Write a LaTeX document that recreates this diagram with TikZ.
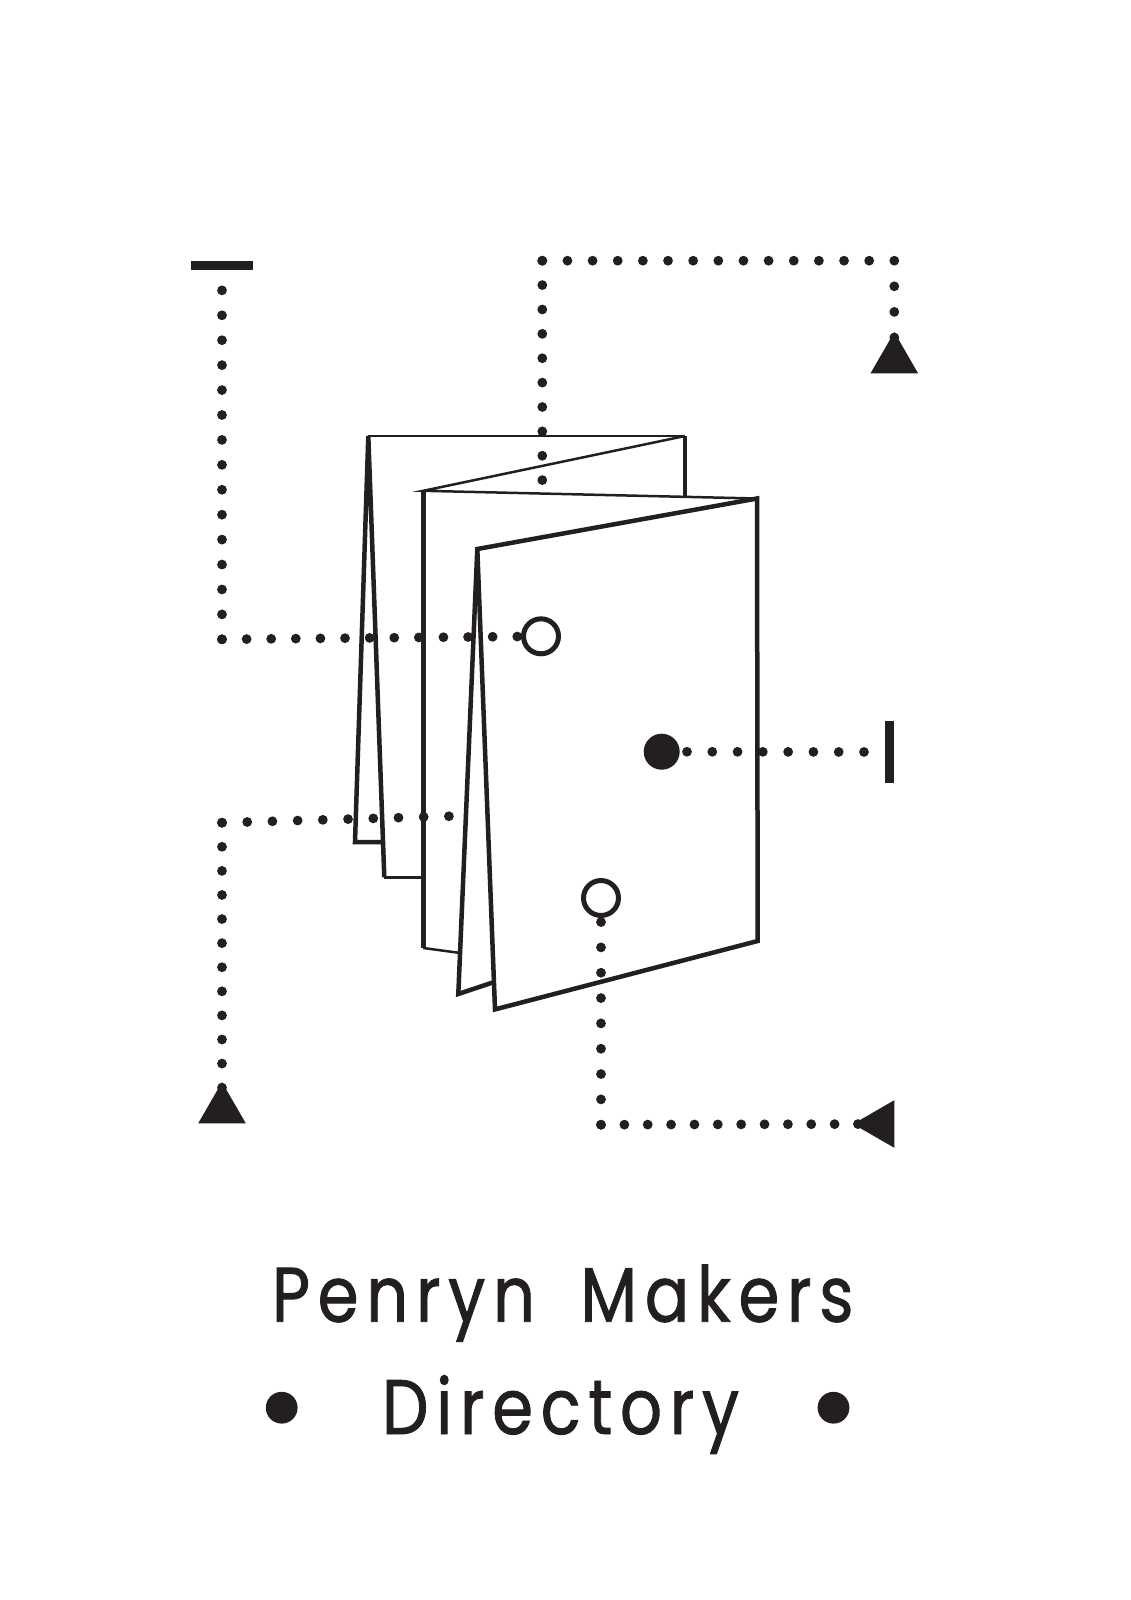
\documentclass[tikz,border=0pt]{standalone}
\usepackage{fontspec}
\usepackage{tikz}
\usetikzlibrary{shapes.geometric}
\definecolor{ink}{HTML}{231F20}
\newfontfamily\titlefont[LetterSpace=10,FakeStretch=0.85,FakeBold=1.1,WordSpace=1.8]{Poppins}
\tikzset{
	dotline/.style={ink,line width=0.196cm,line cap=round,dash pattern=on 0pt off #1},
	fold/.style={ink,line width=0.09cm},
	foldthin/.style={ink,line width=0.05cm},
	ring/.style={circle,draw=ink,line width=0.1cm,fill=white,minimum size=0.7cm,inner sep=0pt,outer sep=0pt},
	disc/.style={circle,fill=ink,minimum size=#1,inner sep=0pt,outer sep=0pt},
	tri/.style={regular polygon,regular polygon sides=3,fill=ink,minimum size=1.1cm,inner sep=0pt,outer sep=0pt},
	bar/.style={rectangle,fill=ink,inner sep=0pt,outer sep=0pt},
	title/.style={anchor=base west,inner sep=0pt,outer sep=0pt,text=ink,font=\titlefont\fontsize{44}{44}\selectfont}
}

\begin{document}
\begin{tikzpicture}[x=0.02cm,y=-0.02cm]
	\useasboundingbox (0,0) rectangle (1131,1600);
	% leaflet
	\draw[foldthin] (368.3,436) -- (685,436);
	\draw[fold] (685,436) -- (685,496.5);
	\draw[foldthin] (685,436) -- (423.3,490.8) -- (757,498.5);
	\draw[fold] (423.3,490.8) -- (423.3,948);
	\draw[foldthin] (423.3,948) -- (458.3,952.7);
	\draw[fold] (381.7,842) -- (355,842) -- (368.3,436) -- (384.3,877.3);
	\draw[foldthin] (384.3,877.3) -- (423.3,877.3);
	\draw[fold] (477.3,549) -- (757,498.5) -- (757.7,941) -- (495,1009.4) -- cycle;
	\draw[fold] (477.3,549) -- (458.3,994) -- (492.3,982.6);
	% end marks
	\node[bar,minimum width=1.252cm,minimum height=0.186cm] (barTop) at (222,265.3) {};
	\node[bar,minimum width=0.186cm,minimum height=1.252cm] (barRight) at (889.6,752) {};
	\node[tri] (triTop) at (894.3,359.6) {};
	\node[tri] (triLeft) at (222,1109.6) {};
	\node[tri,shape border rotate=90] (triRight) at (880.6,1124) {};
	\node[ring] (ringHigh) at (541,636.3) {};
	\node[ring] (ringLow) at (601,898) {};
	\node[disc=0.72cm] (discMid) at (661.7,751.7) {};
	% corners and free ends
	\coordinate (cornerNW) at (222,639.3);
	\coordinate (cornerTop) at (542.3,260.7);
	\coordinate (cornerNE) at (894.3,260.7);
	\coordinate (endTop) at (542.3,481);
	\coordinate (cornerSW) at (222,822.7);
	\coordinate (endLow) at (450,816.2);
	\coordinate (cornerSE) at (601,1124.7);
	% dotted lines
	\draw[dotline=0.4986cm] (cornerNW) -- (barTop);
	\draw[dotline=0.4922cm] (cornerNW) -- (ringHigh);
	\draw[dotline=0.503cm] (cornerTop) -- (cornerNE);
	\draw[dotline=0.4877cm] (cornerTop) -- (endTop);
	\draw[dotline=0.512cm] (cornerNE) -- (triTop.center);
	\draw[dotline=0.5045cm] (cornerSW) -- (endLow);
	\draw[dotline=0.4818cm] (cornerSW) -- (triLeft.center);
	\draw[dotline=0.5058cm] (discMid.center) -- (barRight);
	\draw[dotline=0.5067cm] (cornerSE) -- (ringLow);
	\draw[dotline=0.4673cm] (cornerSE) -- (triRight.center);
	% title
	\node[title] (titleTop) at (272,1321.7) {Penryn Makers};
	\node[title] (titleLow) at (382,1434) {Directory};
	\node[disc=0.636cm] (bulletLeft) at (281.7,1407.7) {};
	\node[disc=0.636cm] (bulletRight) at (833.5,1407.7) {};
\end{tikzpicture}
\end{document}
